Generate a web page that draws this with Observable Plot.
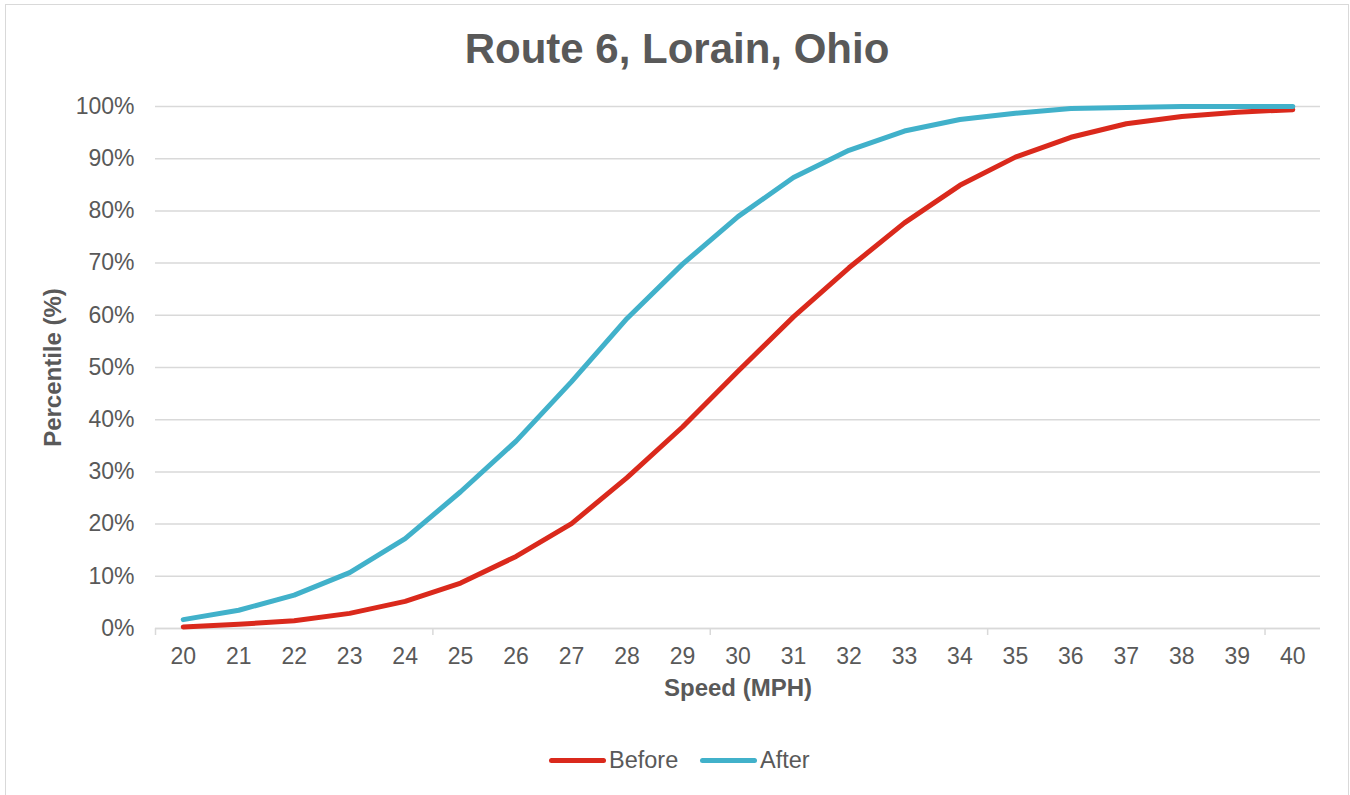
<!DOCTYPE html>
<html><head><meta charset="utf-8">
<script src="https://cdn.jsdelivr.net/npm/d3@7"></script>
<script src="https://cdn.jsdelivr.net/npm/@observablehq/plot@0.6"></script>
<style>
html,body{margin:0;padding:0;background:#fff;}
body{font-family:"Liberation Sans",Arial,sans-serif;color:#595959;width:1350px;height:795px;position:relative;overflow:hidden;}
#frame{position:absolute;left:5px;top:4px;width:1344px;height:805px;border:1.5px solid #d9d9d9;box-sizing:border-box;}
#title{position:absolute;left:0;width:1354px;top:25px;text-align:center;font-size:42px;font-weight:bold;line-height:48px;}
#chart{position:absolute;left:0;top:80px;}
.leg{position:absolute;top:747px;font-size:23.5px;line-height:26px;display:flex;align-items:center;}
.sw{display:inline-block;width:57px;height:5px;border-radius:3px;margin-right:3px;}
</style>
</head><body>
<div id="frame"></div>
<div id="title">Route 6, Lorain, Ohio</div>
<div id="chart"></div>
<div class="leg" style="left:549px"><span class="sw" style="background:#DA291C"></span>Before</div>
<div class="leg" style="left:700px"><span class="sw" style="background:#41B1CA"></span>After</div>
<script>
const speeds = [20,21,22,23,24,25,26,27,28,29,30,31,32,33,34,35,36,37,38,39,40];
const before = [0.3,0.8,1.5,2.9,5.2,8.7,13.8,20.1,28.9,38.6,49.3,59.7,69.1,77.7,84.9,90.3,94.1,96.7,98.1,98.9,99.4];
const after  = [1.7,3.5,6.4,10.7,17.2,26.2,35.9,47.3,59.4,69.8,78.9,86.4,91.6,95.3,97.5,98.7,99.6,99.8,100,100,100];
const yTicks = [0,10,20,30,40,50,60,70,80,90,100];
const xBoundaryTicks = [19.5,24.5,29.5,34.5,39.5];

const beforeRows = speeds.map((s,i)=>({speed:s, value:before[i]}));
const afterRows = speeds.map((s,i)=>({speed:s, value:after[i]}));

const chart = Plot.plot({
  width:1350, height:640,
  marginTop:26, marginBottom:92, marginLeft:155, marginRight:30,
  x:{domain:[19.5,40.5]},
  y:{domain:[0,100]},
  style:{fontFamily:"'Liberation Sans', Arial, sans-serif", fontSize:"23px", color:"#595959", background:"transparent", overflow:"visible"},
  marks:[
    Plot.gridY(yTicks,{stroke:"#d9d9d9", strokeOpacity:1, strokeWidth:1.5}),
    Plot.axisY(yTicks,{tickSize:0, tickPadding:21, tickFormat:d=>d+"%", label:null, fontSize:23}),
    Plot.axisX(speeds,{tickSize:0, tickPadding:19, tickFormat:d=>String(d), label:null, fontSize:23}),
    Plot.axisX(xBoundaryTicks,{tickSize:7, tickFormat:()=>"", label:null, stroke:"#d9d9d9", strokeWidth:1.5, strokeOpacity:1}),
    Plot.ruleY([0],{stroke:"#d9d9d9", strokeWidth:1.5}),
    Plot.lineY(beforeRows,{x:"speed", y:"value", stroke:"#DA291C", strokeWidth:5, strokeLinejoin:"round", strokeLinecap:"round"}),
    Plot.lineY(afterRows,{x:"speed", y:"value", stroke:"#41B1CA", strokeWidth:5, strokeLinejoin:"round", strokeLinecap:"round"}),
    Plot.text(["Speed (MPH)"],{frameAnchor:"bottom", dy:67, fontWeight:"bold", fontSize:24, fill:"#595959"}),
    Plot.text(["Percentile (%)"],{frameAnchor:"left", dx:-102, rotate:-90, textAnchor:"middle", fontWeight:"bold", fontSize:24, fill:"#595959"})
  ]
});
document.getElementById("chart").appendChild(chart);
</script>
</body></html>
